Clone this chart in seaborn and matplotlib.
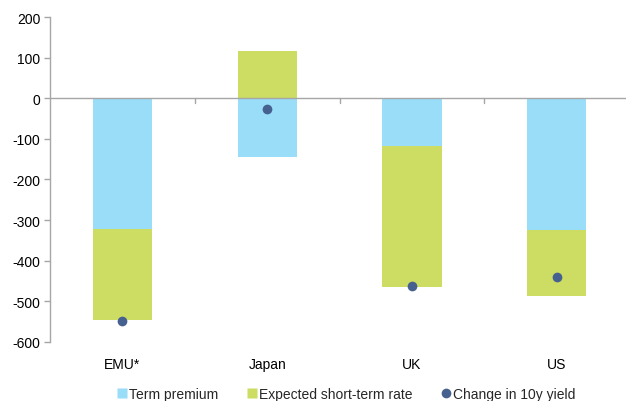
import numpy as np
import pandas as pd
import matplotlib
matplotlib.use("Agg")
import matplotlib.pyplot as plt
import seaborn as sns
from matplotlib.lines import Line2D

categories = ["EMU*", "Japan", "UK", "US"]
term_premium = [-323, -144, -118, -325]
expected_short_rate = [-224, 117, -347, -161]
change_10y_yield = [-548, -26, -463, -440]
yticks = [200, 100, 0, -100, -200, -300, -400, -500, -600]

c_tp = "#99DDF8"
c_esr = "#CDDD63"
c_dot = "#46618F"
grey = "#A6A6A6"

sns.set_theme(style="white")
plt.rcParams["font.family"] = ["Liberation Sans", "DejaVu Sans"]
plt.rcParams["axes.unicode_minus"] = False

tp = np.array(term_premium, dtype=float)
esr = np.array(expected_short_rate, dtype=float)
bottom = np.where(esr < 0, np.minimum(tp, 0), np.maximum(tp, 0))

df = pd.DataFrame({"cat": categories, "tp": tp, "esr": esr,
                   "bottom": bottom, "yld": change_10y_yield})

fig = plt.figure(figsize=(6.26, 4.02), dpi=100)
ax = fig.add_axes([0.08, 0.147, 0.925, 0.808])

sns.barplot(data=df, x="cat", y="tp", color=c_tp, width=0.41,
            saturation=1, ax=ax, linewidth=0)
sns.barplot(data=df, x="cat", y="esr", color=c_esr, width=0.41,
            saturation=1, ax=ax, linewidth=0, bottom=df["bottom"])
sns.stripplot(data=df, x="cat", y="yld", color=c_dot, jitter=False,
              size=7, ax=ax, zorder=5)

ax.set_ylim(-600, 200)
ax.set_xlim(-0.5, 3.5)
ax.set_yticks(yticks)
ax.set_xlabel("")
ax.set_ylabel("")
for s in ["top", "right", "bottom"]:
    ax.spines[s].set_visible(False)
ax.spines["left"].set_color(grey)
ax.spines["left"].set_linewidth(1)
ax.axhline(0, color=grey, lw=1, zorder=1)
trans = ax.get_xaxis_transform()
for b in [0.5, 1.5, 2.5]:
    ax.plot([b, b], [0.75, 0.735], transform=trans, color=grey, lw=1)

ax.tick_params(axis="y", left=True, length=4, color=grey, width=1,
               labelsize=10, labelcolor="#000000", pad=3)
ax.tick_params(axis="x", bottom=False, labelsize=10, labelcolor="#000000", pad=5)

handles = [
    Line2D([0], [0], marker="s", color="none", markerfacecolor=c_tp,
           markeredgecolor="none", markersize=7, label="Term premium"),
    Line2D([0], [0], marker="s", color="none", markerfacecolor=c_esr,
           markeredgecolor="none", markersize=7, label="Expected short-term rate"),
    Line2D([0], [0], marker="o", color="none", markerfacecolor=c_dot,
           markeredgecolor="none", markersize=7, label="Change in 10y yield"),
]
fig.legend(handles=handles, loc="center", bbox_to_anchor=(0.553, 0.017),
           ncol=3, frameon=False, fontsize=10, handlelength=0.7,
           handletextpad=0.15, columnspacing=2.1)

fig.savefig("out.png", dpi=100)
